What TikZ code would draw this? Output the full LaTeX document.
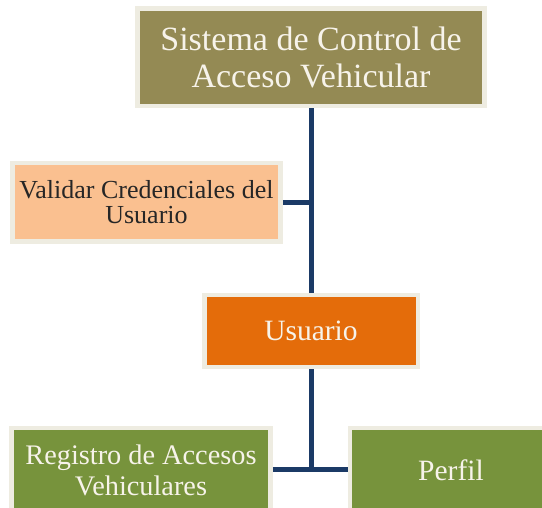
\documentclass[tikz,border=0pt]{standalone}
\usepackage{fontspec}
\setmainfont{Liberation Serif}
\definecolor{olivefill}{HTML}{948A54}
\definecolor{peachfill}{HTML}{FAC090}
\definecolor{orangefill}{HTML}{E46C0A}
\definecolor{greenfill}{HTML}{77933C}
\definecolor{boxborder}{HTML}{EEECE1}
\definecolor{navy}{HTML}{1B3A66}
\definecolor{lighttext}{HTML}{F7F3EA}
\definecolor{darktext}{HTML}{262626}
\begin{document}
\begin{tikzpicture}[x=1pt,y=-1pt,
  box/.style={draw=boxborder, line width=4.5pt, rectangle, inner sep=0pt, align=center},
  link/.style={draw=navy, line width=5pt}]
\useasboundingbox (0,0) rectangle (542,508);
\clip (0,0) rectangle (542,508);
\node[box, fill=olivefill, text=lighttext, minimum width=347pt, minimum height=97.5pt,
  font=\fontsize{34}{37}\selectfont] (sys) at (311,57.25) {Sistema de Control de\\Acceso Vehicular};
\node[box, fill=peachfill, text=darktext, minimum width=268pt, minimum height=78.5pt,
  font=\fontsize{26}{25.5}\selectfont] (val) at (146.5,202.25) {Validar Credenciales del\\Usuario};
\node[box, fill=orangefill, text=lighttext, minimum width=213.5pt, minimum height=72pt,
  font=\fontsize{29.5}{31}\selectfont] (usr) at (311,331) {Usuario};
\node[box, fill=greenfill, text=lighttext, minimum width=259pt, minimum height=84pt,
  font=\fontsize{28.3}{31}\selectfont] (reg) at (141,470) {Registro de Accesos\\Vehiculares};
\node[box, fill=greenfill, text=lighttext, minimum width=202pt, minimum height=84pt,
  font=\fontsize{29.5}{31}\selectfont] (per) at (451,470) {Perfil};
\draw[link] (sys.south) -- (usr.north);
\draw[link] (val.east) -- (val.east -| sys.south);
\draw[link] (usr.south) -- (usr.south |- reg.east);
\draw[link] (reg.east) -- (per.west);
\end{tikzpicture}
\end{document}
